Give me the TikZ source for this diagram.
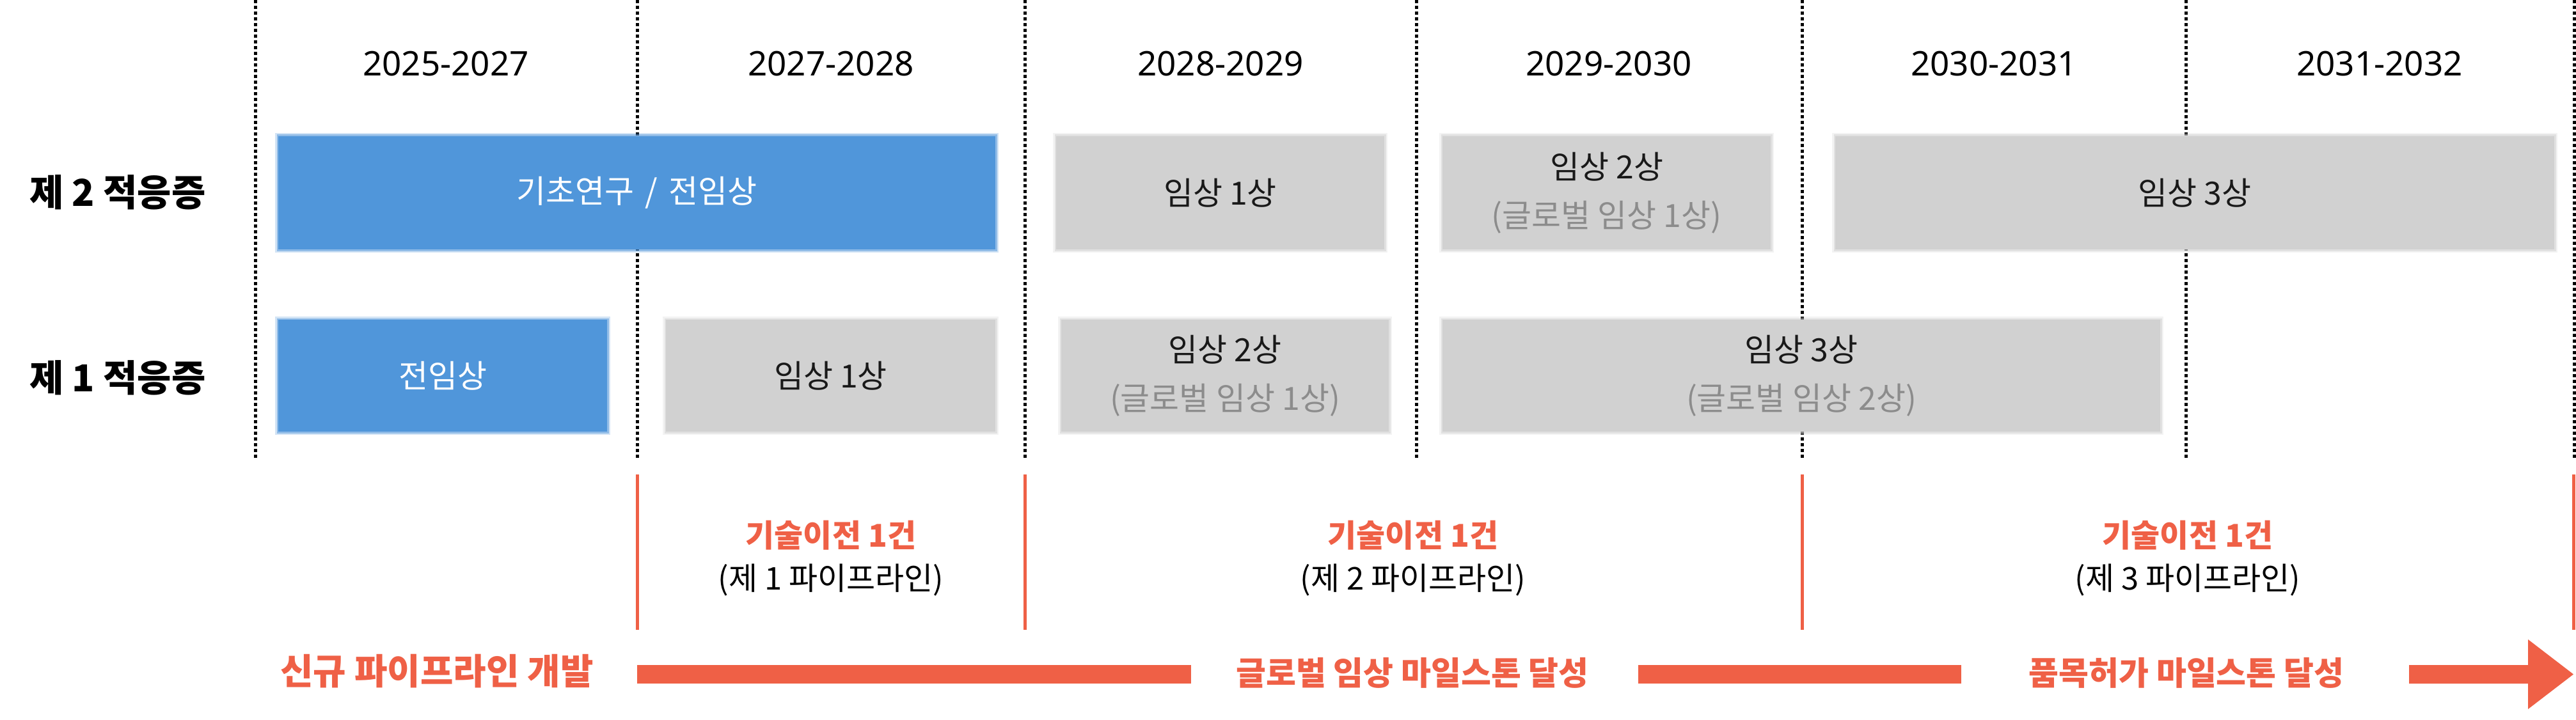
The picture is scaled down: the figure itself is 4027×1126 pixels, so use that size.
\documentclass[tikz,border=0pt]{standalone}
\usepackage{fontspec}
\newfontfamily\kr{Noto Sans CJK KR}
\newfontfamily\yr{Noto Sans}
\definecolor{boxblue}{HTML}{5096DA}
\definecolor{boxgray}{HTML}{D1D1D1}
\definecolor{subgray}{HTML}{8C8C8C}
\definecolor{accent}{HTML}{EF6046}
\tikzset{
  dotline/.style={line width=5pt, dash pattern=on 5pt off 4pt, black},
  redline/.style={line width=5pt, accent},
  yearlbl/.style={font=\yr\fontsize{53}{60}\selectfont, text=black, inner sep=0pt},
  rowlbl/.style={font=\kr\bfseries\fontsize{58}{66}\selectfont, text=black, inner sep=0pt},
  barbox/.style={inner sep=0pt, align=center, font=\kr\fontsize{50}{76}\selectfont},
  bluebox/.style={barbox, fill=boxblue, text=white,
     preaction={draw=boxblue, draw opacity=0.25, line width=10pt},
     preaction={draw=boxblue, draw opacity=0.5, line width=5pt}},
  graybox/.style={barbox, fill=boxgray, text=black!90,
     preaction={draw=boxgray, draw opacity=0.25, line width=10pt},
     preaction={draw=boxgray, draw opacity=0.5, line width=5pt}},
  xferlbl/.style={font=\kr\bfseries\fontsize{49}{60}\selectfont, text=accent, inner sep=0pt},
  pipelbl/.style={font=\kr\fontsize{49}{60}\selectfont, text=black, inner sep=0pt},
  milelbl/.style={font=\kr\bfseries\fontsize{51}{60}\selectfont, text=accent, inner sep=0pt},
}
\newcommand{\sub}[1]{{\color{subgray}#1}}
\begin{document}
\begin{tikzpicture}[x=1pt,y=-1pt]
\useasboundingbox[fill=white] (0,0) rectangle (4027,1126);

% dotted column separators
\foreach \i/\x in {1/399,2/996,3/1602,4/2214,5/2817,6/3417,7/4024}{
  \coordinate (d\i t) at (\x,0);
  \coordinate (d\i b) at (\x,717);
  \draw[dotline] (d\i t) -- (d\i b);
}

% year headers
\node[yearlbl] (y1) at (697,100) {2025-2027};
\node[yearlbl] (y2) at (1299,100) {2027-2028};
\node[yearlbl] (y3) at (1908,100) {2028-2029};
\node[yearlbl] (y4) at (2515,100) {2029-2030};
\node[yearlbl] (y5) at (3117,100) {2030-2031};
\node[yearlbl] (y6) at (3720,100) {2031-2032};

% row labels
\node[rowlbl] (r2) at (184,301) {제 2 적응증};
\node[rowlbl] (r1) at (184,591) {제 1 적응증};

% row 2 bars
\node[bluebox, minimum width=1121pt, minimum height=177pt] (a1) at (995.5,301.5) {기초연구\hspace{6pt} / \hspace{6pt}전임상};
\node[graybox, minimum width=513pt, minimum height=177pt] (a2) at (1907.5,301.5) {임상 1상};
\node[graybox, minimum width=513pt, minimum height=177pt] (a3) at (2511.5,301.5) {임상 2상\\\sub{(글로벌 임상 1상)}};
\node[graybox, minimum width=1124pt, minimum height=177pt] (a4) at (3431,301.5) {임상 3상};

% row 1 bars
\node[bluebox, minimum width=514pt, minimum height=175pt] (b1) at (692,587.5) {전임상};
\node[graybox, minimum width=515pt, minimum height=175pt] (b2) at (1298.5,587.5) {임상 1상};
\node[graybox, minimum width=512pt, minimum height=175pt] (b3) at (1915,587.5) {임상 2상\\\sub{(글로벌 임상 1상)}};
\node[graybox, minimum width=1122pt, minimum height=175pt] (b4) at (2816,587.5) {임상 3상\\\sub{(글로벌 임상 2상)}};

% technology transfer markers
\foreach \i/\x in {1/996,2/1602,3/2817,4/4023}{
  \coordinate (m\i t) at (\x,742);
  \coordinate (m\i b) at (\x,985);
  \draw[redline] (m\i t) -- (m\i b);
}
\node[xferlbl] (t1) at (1299,837) {기술이전 1건};
\node[pipelbl] (p1) at (1299,907) {(제 1 파이프라인)};
\node[xferlbl] (t2) at (2209,837) {기술이전 1건};
\node[pipelbl] (p2) at (2209,907) {(제 2 파이프라인)};
\node[xferlbl] (t3) at (3420,837) {기술이전 1건};
\node[pipelbl] (p3) at (3420,907) {(제 3 파이프라인)};

% milestone track
\node[milelbl, font=\kr\bfseries\fontsize{56}{64}\selectfont] (s1) at (683,1050) {신규 파이프라인 개발};
\node[milelbl] (s2) at (2208,1052) {글로벌 임상 마일스톤 달성};
\node[milelbl] (s3) at (3418,1052) {품목허가 마일스톤 달성};

\coordinate (k1a) at (996,1040);  \coordinate (k1b) at (1862,1069);
\coordinate (k2a) at (2561,1040); \coordinate (k2b) at (3066,1069);
\fill[accent] (k1a) rectangle (k1b);
\fill[accent] (k2a) rectangle (k2b);
\coordinate (h0) at (3766,1040);
\coordinate (h1) at (3952,1040);
\coordinate (h2) at (3952,1000);
\coordinate (tip) at (4023,1054.5);
\coordinate (h3) at (3952,1109);
\coordinate (h4) at (3952,1069);
\coordinate (h5) at (3766,1069);
\fill[accent] (h0) -- (h1) -- (h2) -- (tip) -- (h3) -- (h4) -- (h5) -- cycle;
\end{tikzpicture}
\end{document}
